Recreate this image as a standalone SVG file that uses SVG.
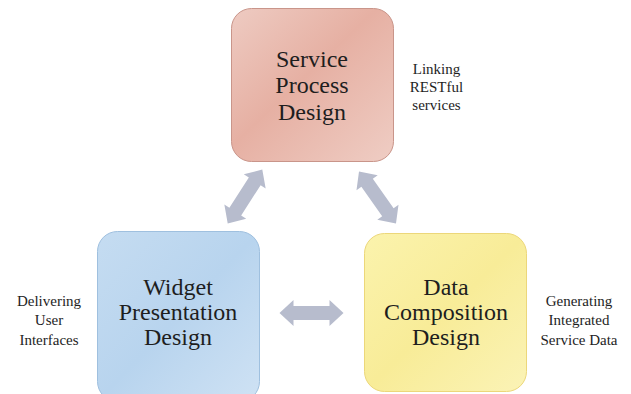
<svg xmlns="http://www.w3.org/2000/svg" xmlns:xlink="http://www.w3.org/1999/xlink" width="631" height="394" viewBox="0 0 631 394">
<style>
.big{font-family:'Liberation Serif','Times New Roman',Times,serif;font-size:24px;fill:#1e1e1e;text-anchor:middle}
.small{font-family:'Liberation Serif','Times New Roman',Times,serif;font-size:15px;fill:#1e1e1e;text-anchor:middle}
.arrow{fill:#b7bccd}
</style>
<defs>
<linearGradient id="gRed" x1="0" y1="0" x2="1" y2="1">
<stop offset="0" stop-color="#eecbc2"/>
<stop offset="0.45" stop-color="#e6b0a3"/>
<stop offset="1" stop-color="#efcdc4"/>
</linearGradient>
<linearGradient id="gBlue" x1="0" y1="0" x2="1" y2="1">
<stop offset="0" stop-color="#c5dcf1"/>
<stop offset="0.5" stop-color="#b8d4ee"/>
<stop offset="1" stop-color="#cfe2f4"/>
</linearGradient>
<linearGradient id="gYellow" x1="0" y1="0" x2="1" y2="1">
<stop offset="0" stop-color="#fbf3ad"/>
<stop offset="0.5" stop-color="#f8ec98"/>
<stop offset="1" stop-color="#fbf3b6"/>
</linearGradient>
<polygon id="dbl" points="-32,0 -18,-13 -18,-7 18,-7 18,-13 32,0 18,13 18,7 -18,7 -18,13"/>
</defs>
<g id="connectors" class="arrow">
<use xlink:href="#dbl" transform="translate(245,196.5) rotate(-57.3)"/>
<use xlink:href="#dbl" transform="translate(377.5,197.5) rotate(54.7)"/>
<use xlink:href="#dbl" transform="translate(311.5,313)"/>
</g>
<g id="service">
<rect x="231.5" y="8.5" width="162" height="153" rx="20" fill="url(#gRed)" stroke="#c9958a" stroke-width="1"/>
<text class="big" x="312" y="67">Service</text>
<text class="big" x="312" y="93">Process</text>
<text class="big" x="312" y="120">Design</text>
</g>
<g id="widget">
<rect x="97.5" y="231.5" width="162" height="170" rx="20" fill="url(#gBlue)" stroke="#9fc0df" stroke-width="1"/>
<text class="big" x="178" y="295">Widget</text>
<text class="big" x="178" y="320">Presentation</text>
<text class="big" x="178" y="345">Design</text>
</g>
<g id="data">
<rect x="364.5" y="233.5" width="162" height="158" rx="20" fill="url(#gYellow)" stroke="#ecd77a" stroke-width="1"/>
<text class="big" x="446" y="295">Data</text>
<text class="big" x="446" y="320">Composition</text>
<text class="big" x="446" y="345">Design</text>
</g>
<g id="label-service">
<text class="small" x="436.5" y="74">Linking</text>
<text class="small" x="436.5" y="92">RESTful</text>
<text class="small" x="436.5" y="110">services</text>
</g>
<g id="label-widget">
<text class="small" x="49" y="306">Delivering</text>
<text class="small" x="49" y="325">User</text>
<text class="small" x="49" y="345">Interfaces</text>
</g>
<g id="label-data">
<text class="small" x="579" y="306">Generating</text>
<text class="small" x="579" y="325">Integrated</text>
<text class="small" x="579" y="345">Service Data</text>
</g>
</svg>
